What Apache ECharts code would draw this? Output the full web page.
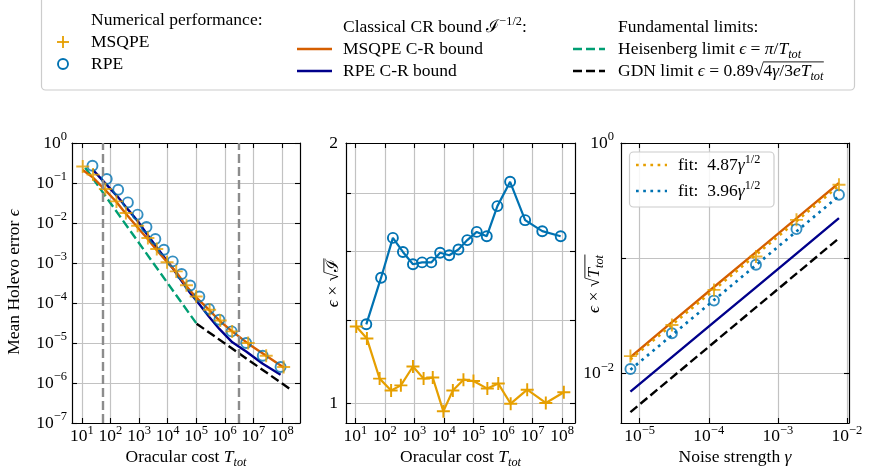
<!DOCTYPE html>
<html>
<head>
<meta charset="utf-8">
<script src="https://cdn.jsdelivr.net/npm/echarts@6/dist/echarts.min.js"></script>
<style>
  html, body { margin: 0; padding: 0; background: #ffffff; }
  #chart { width: 870px; height: 473px; }
</style>
</head>
<body>
<div id="chart"></div>
<script>
const FONT = "'Liberation Serif', 'DejaVu Serif', serif";
const BASE = 17.5;

// ---------- tick positions ----------
const costTicks = [1e1, 1e2, 1e3, 1e4, 1e5, 1e6, 1e7, 1e8];
const errorTicks = [1e-7, 1e-6, 1e-5, 1e-4, 1e-3, 1e-2, 1e-1, 1e0];
const ratioTicks = [1, 1.25, 1.5, 1.75, 2];
const ratioLabels = [1, 2];
const gammaTicks = [1e-5, 1e-4, 1e-3, 1e-2];
const scaledTicks = [1e-2, 1e-1, 1e0];
const scaledLabels = [1e-2, 1e0];

// ---------- MSQPE runs: oracular cost, mean Holevo error, C-R bound, ratio ----------
const costMSQPE = [10.7, 24.5, 66.1, 162, 347, 891, 2040, 4170, 9550, 2.0e4, 4.57e4, 1.0e5, 2.95e5, 6.92e5, 1.82e6, 6.61e6, 2.82e7, 1.15e8];
const errMSQPE = [0.26, 0.162, 0.0708, 0.0347, 0.0178, 0.00851, 0.00422, 0.00224, 0.00104, 6.17e-4, 2.79e-4, 1.46e-4, 6.76e-5, 3.67e-5, 1.95e-5, 1.0e-5, 4.79e-6, 2.51e-6];
const crMSQPE = [0.212, 0.1365, 0.0662, 0.0335, 0.01694, 0.00771, 0.00394, 0.00209, 0.001057, 5.96e-4, 2.61e-4, 1.377e-4, 6.5e-5, 3.48e-5, 1.95e-5, 9.64e-6, 4.78e-6, 2.44e-6];
const ratioMSQPE = [1.228, 1.189, 1.069, 1.036, 1.050, 1.104, 1.069, 1.072, 0.980, 1.036, 1.066, 1.062, 1.041, 1.055, 1.0, 1.038, 1.002, 1.031];

// ---------- RPE runs ----------
const costRPE = [23.4, 74, 186, 407, 891, 1820, 3720, 7410, 1.51e4, 3.09e4, 6.17e4, 1.29e5, 2.82e5, 6.46e5, 1.74e6, 5.62e6, 2.14e7, 9.0e7];
const errRPE = [0.271, 0.126, 0.068, 0.0327, 0.0162, 0.00794, 0.00398, 0.00214, 0.0011, 5.31e-4, 2.75e-4, 1.46e-4, 7.08e-5, 3.8e-5, 1.95e-5, 1.0e-5, 4.79e-6, 2.51e-6];
const crRPE = [0.219, 0.0899, 0.0438, 0.0219, 0.0112, 0.00546, 0.00274, 0.00143, 7.41e-4, 3.52e-4, 1.78e-4, 9.25e-5, 4.53e-5, 2.25e-5, 1.08e-5, 6.14e-6, 3.03e-6, 1.61e-6];
const ratioRPE = [1.235, 1.398, 1.554, 1.497, 1.449, 1.456, 1.456, 1.494, 1.484, 1.507, 1.545, 1.579, 1.561, 1.691, 1.804, 1.629, 1.582, 1.561];

// ---------- fundamental limits (segment end points) ----------
const heisenbergCost = [13.05, 1.035e5];
const heisenbergErr = [0.2407, 3.035e-5];
const gdnCost = [1.035e5, 1.9e8];
const gdnErr = [3.035e-5, 7.1e-7];
const markerCosts = [53, 3.06e6];

// ---------- noise sweep ----------
const gamma = [7.35e-6, 2.93e-5, 1.19e-4, 4.82e-4, 1.86e-3, 7.66e-3];
const scaledMSQPE = [0.0141, 0.0263, 0.053, 0.1033, 0.215, 0.434];
const scaledRPE = [0.0109, 0.0223, 0.0428, 0.0875, 0.1787, 0.355];
const scaledCrMSQPE = [0.01377, 0.0278, 0.0562, 0.1127, 0.2213, 0.449];
const scaledCrRPE = [0.00692, 0.0138, 0.0278, 0.0558, 0.1096, 0.2228];
const gammaEnds = [7.35e-6, 7.66e-3];
const scaledGdn = [0.0046, 0.149];
const fitMSQPE = [0.0132, 0.426];
const fitRPE = [0.01074, 0.3466];

// ---------- styling ----------
const C_MSQPE = '#e69f00', C_RPE = '#0072b2';
const C_CR_MSQPE = '#d55e00', C_CR_RPE = '#00008b';
const C_HEIS = '#009e73', C_GDN = '#000000', C_MARK = '#8c8c8c';
const DASH = [9, 4], DOT = [2.7, 4.5];
const PLUS = 'path://M5.1,0H6.9V5.1H12V6.9H6.9V12H5.1V6.9H0V5.1H5.1Z';

const zip = (xs, ys) => xs.map((x, i) => [x, ys[i]]);

const RICH = {
  b: { fontFamily: FONT, fontSize: BASE, color: '#000' },
  s: { fontFamily: FONT, fontSize: 12.5, color: '#000', padding: [0, 0, 12, 0] }
};
const powLabel = v => {
  const e = Math.round(Math.log10(v));
  return '{b|10}{s|' + String(e).replace('-', '\u2212') + '}';
};
const plainLabel = v => '{b|' + Math.round(v) + '}';

function logAxis(gridIndex, position, min, max, ticks, labels, fmt, margin) {
  const primary = !!labels;
  return {
    type: 'log', logBase: 10, gridIndex, position, min, max,
    axisLine: { show: true, onZero: false, lineStyle: { color: '#000', width: 1.2 } },
    axisTick: { show: true, inside: true, length: 5, customValues: ticks, lineStyle: { color: '#000', width: 1.1 } },
    axisLabel: primary
      ? { show: true, customValues: labels, formatter: fmt, margin, rich: RICH, color: '#000', fontFamily: FONT, fontSize: BASE }
      : { show: false },
    splitLine: { show: primary, lineStyle: { color: '#c2c2c2', width: 1.2 } },
    minorTick: { show: false }, minorSplitLine: { show: false }
  };
}

const xAxes = [
  logAxis(0, 'bottom', 4.5, 4.3e8, costTicks, costTicks, powLabel, 1),
  logAxis(0, 'top', 4.5, 4.3e8, costTicks),
  logAxis(1, 'bottom', 4.8, 2.75e8, costTicks, costTicks, powLabel, 1),
  logAxis(1, 'top', 4.8, 2.75e8, costTicks),
  logAxis(2, 'bottom', 5.37e-6, 0.0107, gammaTicks, gammaTicks, powLabel, 1),
  logAxis(2, 'top', 5.37e-6, 0.0107, gammaTicks)
];
const yAxes = [
  logAxis(0, 'left', 1e-7, 1, errorTicks, errorTicks, powLabel, 5),
  logAxis(0, 'right', 1e-7, 1, errorTicks),
  logAxis(1, 'left', 0.95, 2, ratioTicks, ratioLabels, plainLabel, 8),
  logAxis(1, 'right', 0.95, 2, ratioTicks),
  logAxis(2, 'left', 3.7e-3, 1, scaledTicks, scaledLabels, powLabel, 7),
  logAxis(2, 'right', 3.7e-3, 1, scaledTicks)
];

function lineSeries(ai, xs, ys, color, type, width, extra) {
  return Object.assign({
    type: 'line', xAxisIndex: ai, yAxisIndex: ai, data: zip(xs, ys),
    symbol: 'none', silent: true, z: 2,
    lineStyle: { color, width, type, cap: 'butt' }, itemStyle: { color }
  }, extra || {});
}
function plusSeries(ai, xs, ys, withLine) {
  return {
    type: withLine ? 'line' : 'scatter', xAxisIndex: ai, yAxisIndex: ai, data: zip(xs, ys),
    symbol: PLUS, symbolSize: 13, silent: true, z: 4,
    itemStyle: { color: C_MSQPE },
    lineStyle: { color: C_MSQPE, width: 2.2 }
  };
}
function ringSeries(ai, xs, ys, withLine) {
  return {
    type: withLine ? 'line' : 'scatter', xAxisIndex: ai, yAxisIndex: ai, data: zip(xs, ys),
    symbol: 'circle', symbolSize: 10, silent: true, z: 3,
    itemStyle: { color: 'rgba(0,0,0,0)', borderColor: C_RPE, borderWidth: 1.9 },
    lineStyle: { color: C_RPE, width: 2.2 }
  };
}

const series = [
  // error vs cost
  lineSeries(0, heisenbergCost, heisenbergErr, C_HEIS, DASH, 2.4, {
    markLine: {
      silent: true, symbol: ['none', 'none'], label: { show: false }, animation: false,
      lineStyle: { color: C_MARK, type: DASH, width: 2.4 },
      data: markerCosts.map(v => ({ xAxis: v }))
    }
  }),
  lineSeries(0, gdnCost, gdnErr, C_GDN, DASH, 2.4),
  lineSeries(0, costRPE, crRPE, C_CR_RPE, 'solid', 2.4),
  lineSeries(0, costMSQPE, crMSQPE, C_CR_MSQPE, 'solid', 2.4),
  ringSeries(0, costRPE, errRPE, false),
  plusSeries(0, costMSQPE, errMSQPE, false),
  // error relative to the C-R bound
  ringSeries(2, costRPE, ratioRPE, true),
  plusSeries(2, costMSQPE, ratioMSQPE, true),
  // noise sweep
  lineSeries(4, gammaEnds, scaledGdn, C_GDN, DASH, 2.4),
  lineSeries(4, gamma, scaledCrRPE, C_CR_RPE, 'solid', 2.4),
  lineSeries(4, gamma, scaledCrMSQPE, C_CR_MSQPE, 'solid', 2.4),
  lineSeries(4, gammaEnds, fitRPE, C_RPE, DOT, 2.7),
  lineSeries(4, gammaEnds, fitMSQPE, C_MSQPE, DOT, 2.7),
  ringSeries(4, gamma, scaledRPE, false),
  plusSeries(4, gamma, scaledMSQPE, false)
];

// ---------- typeset text (sub/superscripts, radicals) ----------
const measureCtx = document.createElement('canvas').getContext('2d');
const fontOf = (size, italic) => (italic ? 'italic ' : '') + size + 'px ' + FONT;
function widthOf(t, size, italic) { measureCtx.font = fontOf(size, italic); return measureCtx.measureText(t).width; }
const P = (t, o) => Object.assign({ t }, o || {});
const SUB = { it: true, sc: 0.7, dy: 0.25 };
const SUP = { sc: 0.7, dy: -0.42 };

function mathText(parts, x, y, opt) {
  opt = opt || {};
  const size = opt.size || BASE;
  let cursor = 0;
  const runs = parts.map(p => {
    const s = size * (p.sc || 1);
    const w = widthOf(p.t, s, p.it);
    const r = { p, s, w, x: cursor };
    cursor += w;
    return r;
  });
  const x0 = opt.align === 'center' ? -cursor / 2 : 0;
  const base = 0.34 * size;
  const children = [];
  let o1 = null, o2 = null;
  runs.forEach(r => {
    const by = base + (r.p.dy || 0) * size;
    children.push({
      type: 'text', x: x0 + r.x, y: by - 0.34 * r.s, silent: true, z: 101,
      style: { text: r.p.t, font: fontOf(r.s, r.p.it), fill: '#000', textAlign: 'left', textVerticalAlign: 'middle', align: 'left', verticalAlign: 'middle' }
    });
    if (r.p.ov) { if (o1 === null) o1 = x0 + r.x; o2 = x0 + r.x + r.w; }
  });
  if (o1 !== null) {
    const oy = base - 0.86 * size;
    children.push({ type: 'line', silent: true, z: 101, shape: { x1: o1 - 0.5, y1: oy, x2: o2 + 0.5, y2: oy }, style: { stroke: '#000', lineWidth: 0.9 } });
  }
  return { type: 'group', x, y, rotation: opt.rotation || 0, z: 100, children };
}
const hLine = (x1, y1, x2, y2, stroke, lineWidth, dash) => ({
  type: 'line', silent: true, z: 101, shape: { x1, y1, x2, y2 },
  style: { stroke, lineWidth, lineDash: dash || null, lineCap: 'butt' }
});

const graphics = [
  // figure legend
  { type: 'rect', silent: true, z: 99, shape: { x: 41.5, y: -4, width: 813, height: 94, r: 4 }, style: { fill: '#ffffff', stroke: '#cccccc', lineWidth: 1.2 } },
  mathText([P('Numerical performance:')], 91, 20),
  hLine(57, 42, 69, 42, C_MSQPE, 1.8), hLine(63, 36, 63, 48, C_MSQPE, 1.8),
  mathText([P('MSQPE')], 91, 42),
  { type: 'circle', silent: true, z: 101, shape: { cx: 63, cy: 64, r: 5 }, style: { fill: 'none', stroke: C_RPE, lineWidth: 1.9 } },
  mathText([P('RPE')], 91, 64),
  mathText([P('Classical CR bound '), P('\u2110'), P('\u22121/2', SUP), P(':')], 343, 27),
  hLine(297, 49, 332, 49, C_CR_MSQPE, 2.6),
  mathText([P('MSQPE C-R bound')], 343, 49),
  hLine(297, 71, 332, 71, C_CR_RPE, 2.6),
  mathText([P('RPE C-R bound')], 343, 71),
  mathText([P('Fundamental limits:')], 618, 27),
  hLine(573, 49, 605, 49, C_HEIS, 2.6, DASH),
  mathText([P('Heisenberg limit '), P('\u03f5', { it: true }), P(' = '), P('\u03c0', { it: true }), P('/'), P('T', { it: true }), P('tot', SUB)], 618, 49),
  hLine(573, 71, 605, 71, C_GDN, 2.6, DASH),
  mathText([P('GDN limit '), P('\u03f5', { it: true }), P(' = 0.89'), P('\u221a'),
    P('4', { ov: 1 }), P('\u03b3', { it: true, ov: 1 }), P('/3', { ov: 1 }), P('e', { it: true, ov: 1 }), P('T', { it: true, ov: 1 }), P('tot', Object.assign({ ov: 1 }, SUB))], 618, 71),

  // fit legend in the noise panel
  { type: 'rect', silent: true, z: 99, shape: { x: 629.5, y: 152, width: 144.5, height: 55, r: 4 }, style: { fill: 'rgba(255,255,255,0.85)', stroke: '#cccccc', lineWidth: 1.2 } },
  hLine(636, 165, 667, 165, C_MSQPE, 2.7, DOT),
  mathText([P('fit:  4.87'), P('\u03b3', { it: true }), P('1/2', SUP)], 678, 165),
  hLine(636, 191, 667, 191, C_RPE, 2.7, DOT),
  mathText([P('fit:  3.96'), P('\u03b3', { it: true }), P('1/2', SUP)], 678, 191),

  // axis titles
  mathText([P('Oracular cost '), P('T', { it: true }), P('tot', SUB)], 186, 457, { align: 'center' }),
  mathText([P('Oracular cost '), P('T', { it: true }), P('tot', SUB)], 460.5, 457, { align: 'center' }),
  mathText([P('Noise strength '), P('\u03b3', { it: true })], 735, 457, { align: 'center' }),
  mathText([P('Mean Holevo error '), P('\u03f5', { it: true })], 14, 282, { align: 'center', rotation: Math.PI / 2 }),
  mathText([P('\u03f5', { it: true }), P(' \u00d7 '), P('\u221a'), P('\u2110', { ov: 1 })], 333, 283, { align: 'center', rotation: Math.PI / 2 }),
  mathText([P('\u03f5', { it: true }), P(' \u00d7 '), P('\u221a'), P('T', { it: true, ov: 1 }), P('tot', Object.assign({ ov: 1 }, SUB))], 594, 284, { align: 'center', rotation: Math.PI / 2 })
];

const chart = echarts.init(document.getElementById('chart'), null, { renderer: 'canvas', width: 870, height: 473 });
chart.setOption({
  animation: false,
  backgroundColor: '#ffffff',
  textStyle: { fontFamily: FONT },
  grid: [
    { left: 72, top: 143, width: 228, height: 280, containLabel: false, outerBoundsMode: 'none' },
    { left: 346, top: 143, width: 229, height: 280, containLabel: false, outerBoundsMode: 'none' },
    { left: 621, top: 143, width: 228, height: 280, containLabel: false, outerBoundsMode: 'none' }
  ],
  xAxis: xAxes,
  yAxis: yAxes,
  series,
  graphic: { elements: graphics }
});
</script>
</body>
</html>
